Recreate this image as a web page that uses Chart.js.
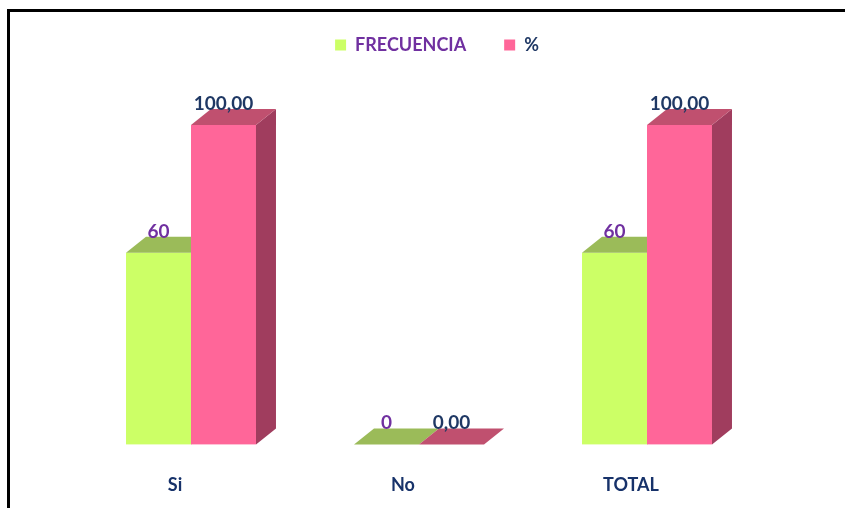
<!DOCTYPE html>
<html>
<head>
<meta charset="utf-8">
<script src="https://cdn.jsdelivr.net/npm/chart.js@4.4.1/dist/chart.umd.min.js"></script>
<style>
  html, body { margin: 0; padding: 0; background: #fff; }
  #wrap { width: 845px; height: 508px; position: relative; }
</style>
</head>
<body>
<div id="wrap"><canvas id="chart" width="845" height="508"></canvas></div>
<script>
const categories = ['Si', 'No', 'TOTAL'];
const frecuencia = [60, 0, 60];
const porcentaje = [100, 0, 100];
const frecuenciaLabels = ['60', '0', '60'];
const porcentajeLabels = ['100,00', '0,00', '100,00'];

const FONT = 'Lato, "Open Sans", sans-serif';
const DEPTH_X = 20;
const DEPTH_Y = 16;

// front / top / side shades for each series
const shades = [
    { front: '#CCFF66', top: '#9BBB59', side: '#86A44A', label: '#7030A0' },
    { front: '#FF6699', top: '#C0506F', side: '#A03D5E', label: '#1F3864' }
];

const frame = {
    id: 'frame',
    beforeDraw(chart) {
        const ctx = chart.ctx;
        ctx.save();
        ctx.fillStyle = '#fff';
        ctx.fillRect(0, 0, chart.width, chart.height);
        ctx.fillStyle = '#000';
        ctx.fillRect(7, 9, chart.width, 3);
        ctx.fillRect(7, 9, 3, chart.height);
        ctx.restore();
    }
};

// move the legend up and a bit right, and the category names a bit down; the plot keeps its place
const shiftBoxes = {
    id: 'shiftBoxes',
    afterLayout(chart) {
        const lg = chart.legend;
        lg.top -= 61;
        lg.bottom -= 61;
        lg.left += 18;
        lg.right += 18;
        const x = chart.scales.x;
        x.top += 9;
        x.bottom += 9;
    }
};

// draws every bar as a small 3D box, series 0 before series 1 so the pink front hides the green side
const boxes = {
    id: 'boxes',
    afterDatasetsDraw(chart) {
        const ctx = chart.ctx;
        ctx.save();
        for (let i = 0; i < categories.length; i++) {
            [0, 1].forEach((d) => {
                const bar = chart.getDatasetMeta(d).data[i];
                const s = shades[d];
                const left = bar.x - bar.width / 2;
                const right = bar.x + bar.width / 2;
                const top = bar.y;
                const base = bar.base;

                ctx.fillStyle = s.front;
                ctx.fillRect(left, top, right - left, base - top);

                ctx.fillStyle = s.side;
                ctx.beginPath();
                ctx.moveTo(right, top);
                ctx.lineTo(right + DEPTH_X, top - DEPTH_Y);
                ctx.lineTo(right + DEPTH_X, base - DEPTH_Y);
                ctx.lineTo(right, base);
                ctx.closePath();
                ctx.fill();

                ctx.fillStyle = s.top;
                ctx.beginPath();
                ctx.moveTo(left, top);
                ctx.lineTo(right, top);
                ctx.lineTo(right + DEPTH_X, top - DEPTH_Y);
                ctx.lineTo(left + DEPTH_X, top - DEPTH_Y);
                ctx.closePath();
                ctx.fill();
            });
        }
        // value labels
        ctx.font = 'bold 19px ' + FONT;
        ctx.textAlign = 'center';
        ctx.textBaseline = 'alphabetic';
        [frecuenciaLabels, porcentajeLabels].forEach((labels, d) => {
            chart.getDatasetMeta(d).data.forEach((bar, i) => {
                ctx.fillStyle = shades[d].label;
                ctx.fillText(labels[i], bar.x, bar.y - DEPTH_Y + 1);
            });
        });
        ctx.restore();
    }
};

new Chart(document.getElementById('chart'), {
    type: 'bar',
    data: {
        labels: categories,
        datasets: [{
            label: 'FRECUENCIA',
            data: frecuencia,
            backgroundColor: 'rgba(0,0,0,0)'
        }, {
            label: '%',
            data: porcentaje,
            backgroundColor: 'rgba(0,0,0,0)'
        }]
    },
    options: {
        responsive: false,
        animation: false,
        layout: {
            padding: { left: 77, right: 84, top: 59, bottom: 0 }
        },
        datasets: {
            bar: {
                categoryPercentage: 0.57,
                barPercentage: 1
            }
        },
        scales: {
            x: {
                grid: { display: false, drawTicks: false },
                border: { display: false },
                ticks: {
                    color: '#17326A',
                    font: { family: FONT, size: 18, weight: 'bold' },
                    labelOffset: -16,
                    padding: 21
                }
            },
            y: {
                display: false,
                min: 0,
                max: 100
            }
        },
        plugins: {
            tooltip: { enabled: false },
            legend: {
                position: 'top',
                labels: {
                    boxWidth: 11,
                    boxHeight: 11,
                    padding: 38,
                    font: { family: FONT, size: 18, weight: 'bold' },
                    generateLabels(chart) {
                        return chart.data.datasets.map((ds, i) => ({
                            text: ds.label,
                            fillStyle: shades[i].front,
                            strokeStyle: shades[i].front,
                            lineWidth: 0,
                            fontColor: i === 0 ? '#7030A0' : '#1F3864',
                            datasetIndex: i,
                            hidden: false
                        }));
                    }
                }
            }
        }
    },
    plugins: [frame, shiftBoxes, boxes]
});
</script>
</body>
</html>
